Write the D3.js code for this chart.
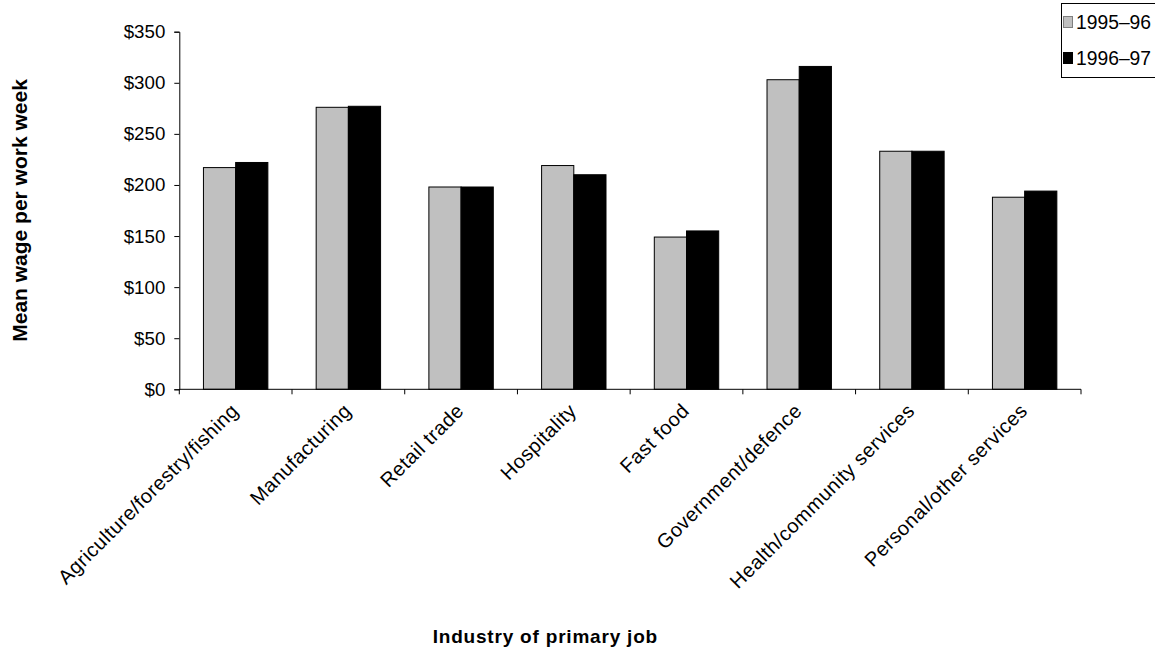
<!DOCTYPE html>
<meta charset="utf-8">
<head>
  <title>Mean wage per work week by industry</title>
  <script src="https://d3js.org/d3.v7.min.js"></script>
  <style>
    body { margin: 0; background: #fff; }
    text { font-family: "Liberation Sans", Arial, sans-serif; fill: #000; }
    .axis-title { font-weight: bold; font-size: 20px; }
  </style>
</head>
<body>
  <div id="my_dataviz"></div>
</body>
<script>

// categories and values
var industries = ['Agriculture/forestry/fishing', 'Manufacturing', 'Retail trade', 'Hospitality',
                  'Fast food', 'Government/defence', 'Health/community services', 'Personal/other services'];
var seriesNames = ['1995–96', '1996–97'];
var wage9596 = [217, 276, 198, 219, 149, 303, 233, 188];
var wage9697 = [222, 277, 198, 210, 155, 316, 233, 194];
var seriesColors = ['#c0c0c0', '#000000'];
var yTicks = [0, 50, 100, 150, 200, 250, 300, 350];

var width = 1155, height = 651;
var plot = {left: 179.3, right: 1081, top: 31.7, bottom: 389.3};

var svg = d3.select("#my_dataviz")
    .append("svg")
    .attr("width", width)
    .attr("height", height);

var x = d3.scaleBand()
    .domain(industries)
    .range([plot.left, plot.right])
    .padding(0);

// two bars per group, gap of 1.5 bar widths split either side
var xSub = d3.scaleBand()
    .domain(seriesNames)
    .range([0, x.bandwidth()])
    .paddingInner(0)
    .paddingOuter(0.75);

var y = d3.scaleLinear()
    .domain([0, 350])
    .range([plot.bottom, plot.top]);

var rows = industries.map(function(d, i) {
    return {name: d, values: [wage9596[i], wage9697[i]]};
});

// bars
var groups = svg.selectAll('g.group')
    .data(rows)
    .enter()
    .append('g')
    .attr('class', 'group')
    .attr('transform', function(d) { return 'translate(' + x(d.name) + ',0)'; });

groups.selectAll('rect')
    .data(function(d) {
        return d.values.map(function(v, j) { return {series: seriesNames[j], value: v, j: j}; });
    })
    .enter()
    .append('rect')
    .attr('x', function(d) { return xSub(d.series); })
    .attr('y', function(d) { return y(d.value); })
    .attr('width', xSub.bandwidth())
    .attr('height', function(d) { return y(0) - y(d.value); })
    .attr('fill', function(d) { return seriesColors[d.j]; })
    .attr('stroke', '#000')
    .attr('stroke-width', 1);

// y axis
var yAxis = svg.append('g')
    .attr('transform', 'translate(' + plot.left + ',0)')
    .call(d3.axisLeft(y).tickValues(yTicks).tickSize(5).tickPadding(9)
        .tickFormat(function(d) { return '$' + d; }));
yAxis.selectAll('text').style('font-size', '18.7px');
yAxis.select('.domain').attr('stroke', '#000');

// x axis: ticks sit on the category boundaries
var boundaries = industries.map(function(d) { return x(d); }).concat([plot.right]);
svg.append('line')
    .attr('x1', plot.left).attr('x2', plot.right)
    .attr('y1', y(0)).attr('y2', y(0))
    .attr('stroke', '#000');
svg.selectAll('line.xtick')
    .data(boundaries)
    .enter()
    .append('line')
    .attr('class', 'xtick')
    .attr('x1', function(d) { return d; })
    .attr('x2', function(d) { return d; })
    .attr('y1', y(0))
    .attr('y2', y(0) + 5)
    .attr('stroke', '#000');

svg.selectAll('text.catlabel')
    .data(industries)
    .enter()
    .append('text')
    .attr('class', 'catlabel')
    .attr('text-anchor', 'end')
    .style('font-size', '20px')
    .style('letter-spacing', '0.5px')
    .attr('transform', function(d) {
        return 'translate(' + (x(d) + x.bandwidth() / 2 + 4) + ',412)rotate(-45)';
    })
    .text(function(d) { return d; });

// axis titles
svg.append('text')
    .attr('class', 'axis-title')
    .attr('text-anchor', 'middle')
    .style('font-size', '21px')
    .attr('transform', 'translate(27,' + ((plot.top + plot.bottom) / 2) + ')rotate(-90)')
    .text('Mean wage per work week');

svg.append('text')
    .attr('class', 'axis-title')
    .attr('text-anchor', 'end')
    .style('font-size', '19px')
    .style('letter-spacing', '0.8px')
    .attr('x', 658)
    .attr('y', 643)
    .text('Industry of primary job');

// legend
var legend = svg.append('g');
legend.append('rect')
    .attr('x', 1061.5).attr('y', 3.5)
    .attr('width', 120).attr('height', 74)
    .attr('fill', '#fff')
    .attr('stroke', '#000');

var items = legend.selectAll('g.item')
    .data(seriesNames)
    .enter()
    .append('g')
    .attr('class', 'item')
    .attr('transform', function(d, i) { return 'translate(0,' + (22 + i * 36) + ')'; });

items.append('rect')
    .attr('x', 1063.5).attr('y', -5.5)
    .attr('width', 9).attr('height', 11)
    .attr('fill', function(d, i) { return seriesColors[i]; })
    .attr('stroke', function(d, i) { return i === 0 ? '#808080' : '#000'; });

items.append('text')
    .attr('x', 1076)
    .attr('y', 7)
    .style('font-size', '19.3px')
    .text(function(d) { return d; });

</script>
